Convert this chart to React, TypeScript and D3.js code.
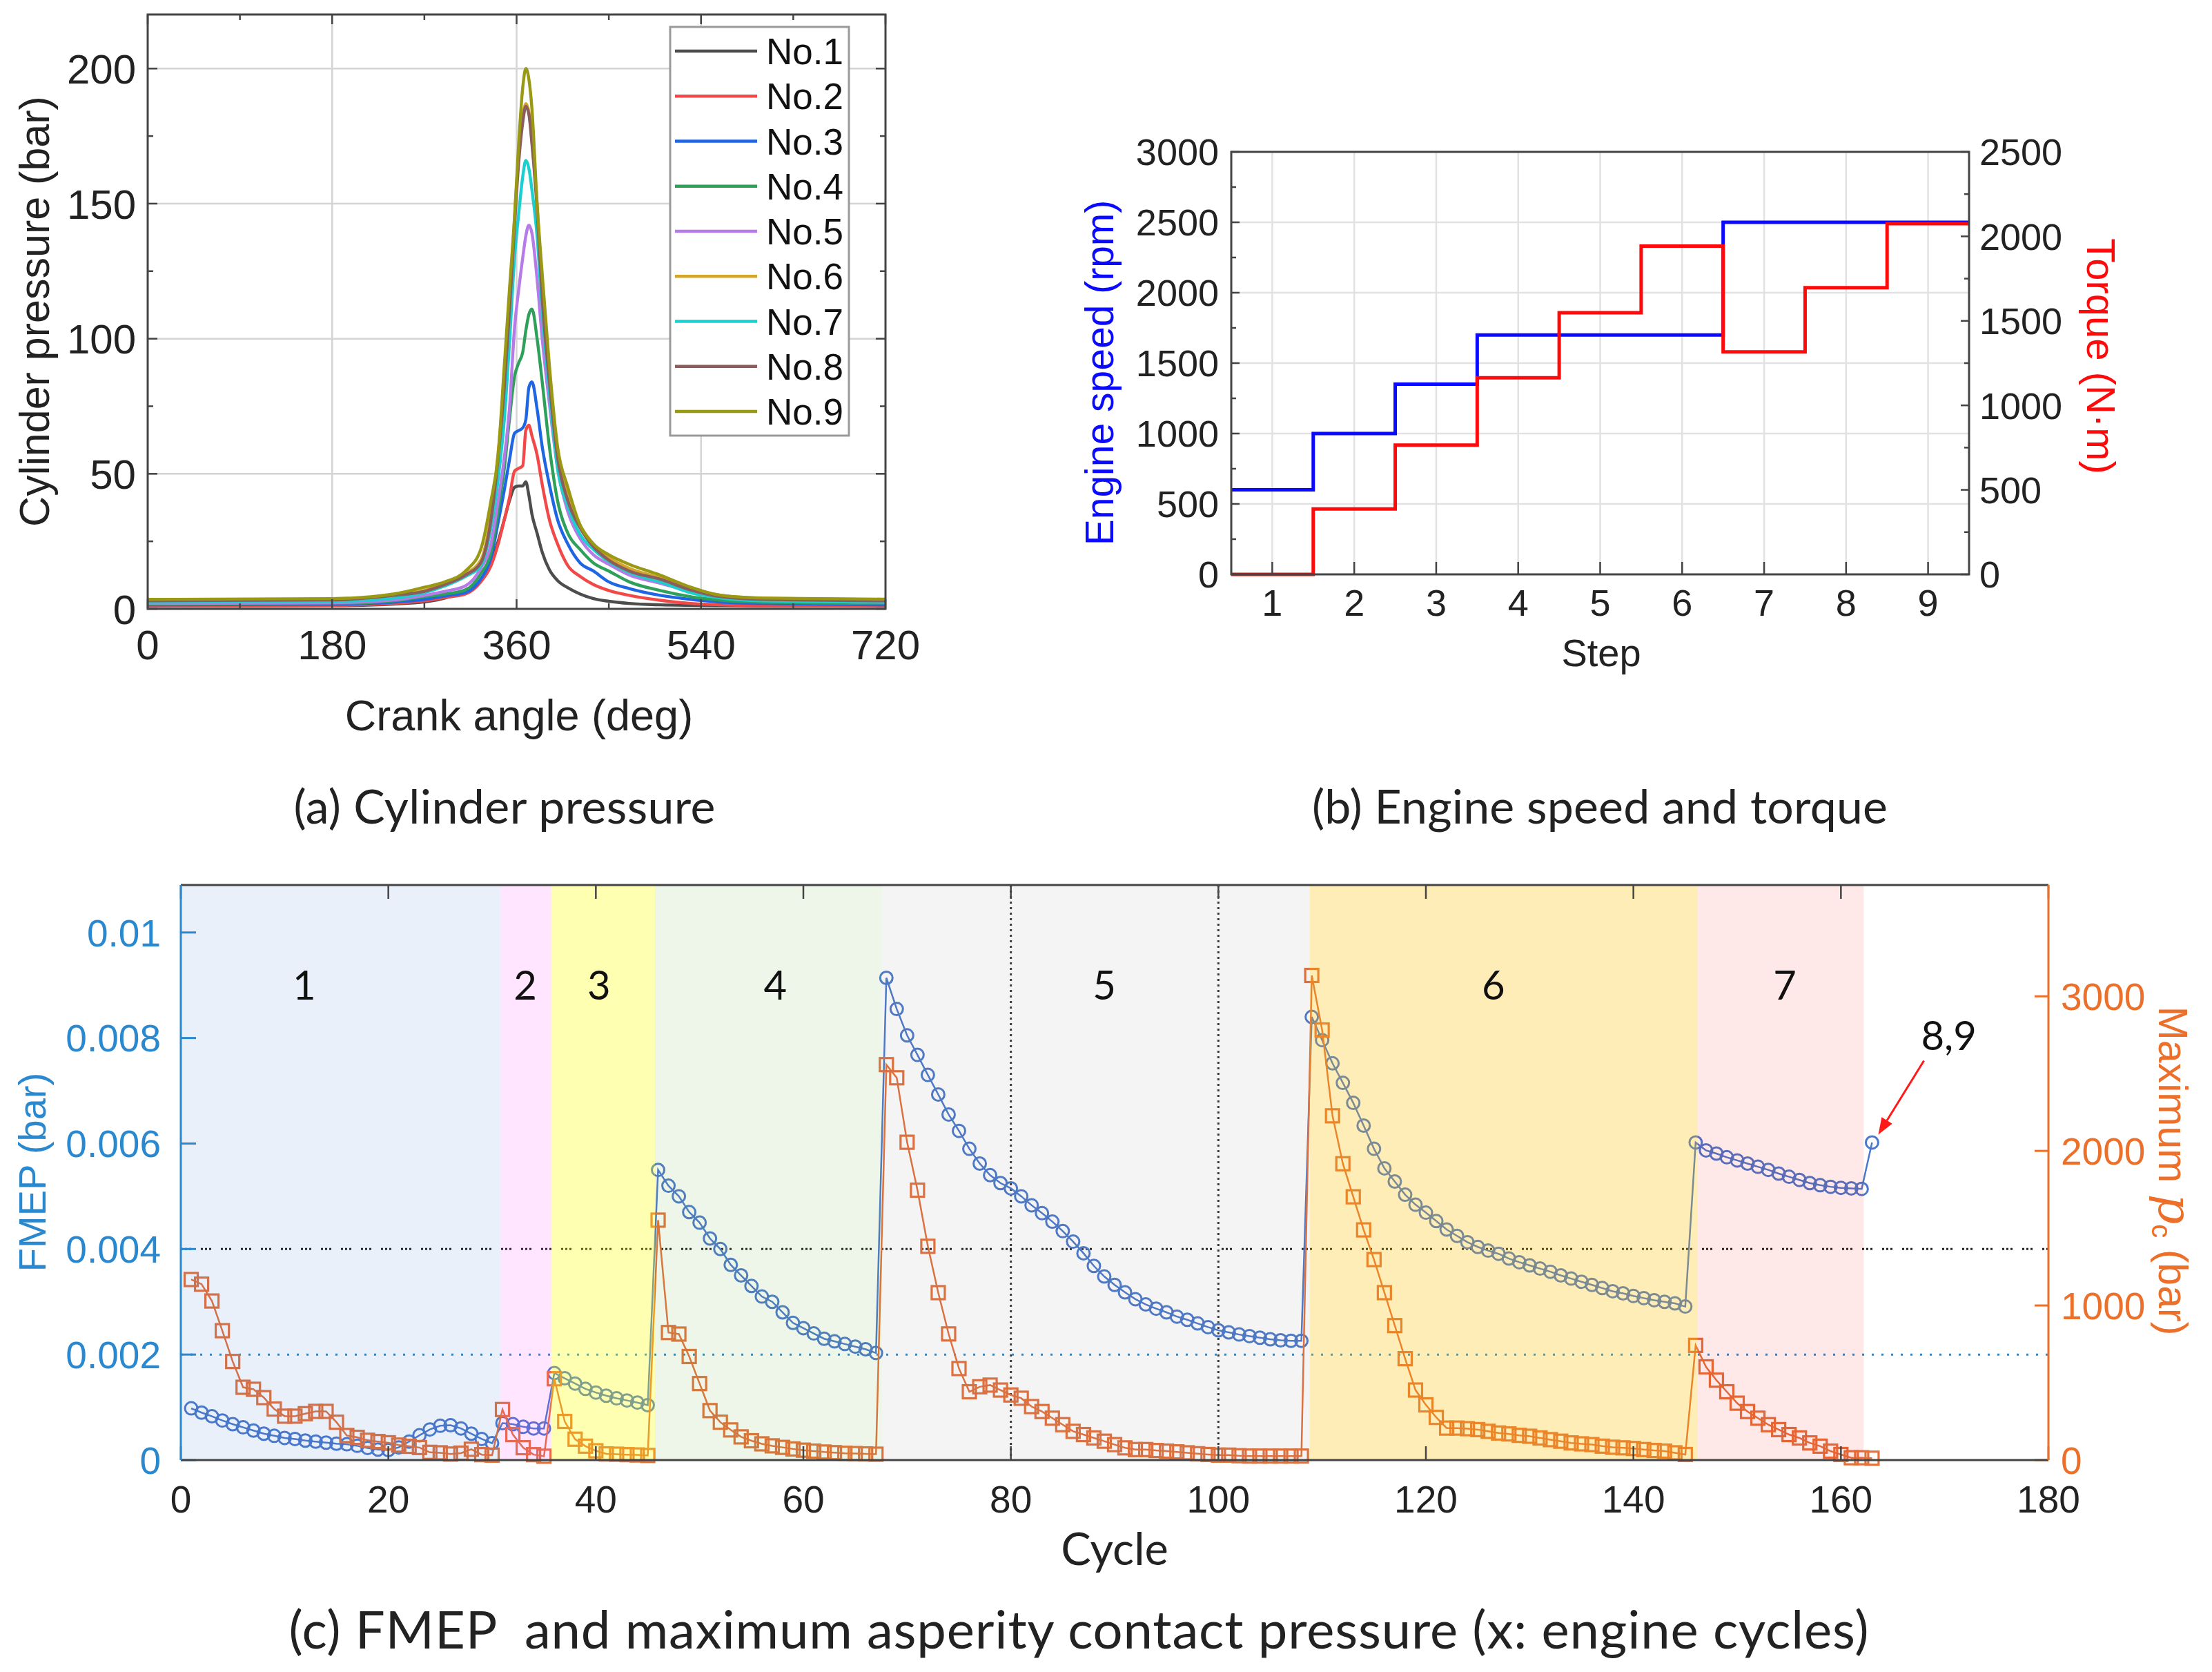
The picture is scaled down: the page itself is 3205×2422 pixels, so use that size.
import React from 'react';
import * as d3 from 'd3';

const W = 3205;
const H = 2422;
const ARIAL = 'Liberation Sans, Arial, sans-serif';
const CALIBRI = 'Lato, "Open Sans", sans-serif';

// ---------- (a) cylinder pressure ----------
const crankAngles = [0, 180, 240, 270, 290, 310, 325, 335, 342, 348, 353, 358, 362, 366, 369, 372, 375, 380, 385, 392, 400, 410, 422, 435, 450, 470, 500, 530, 560, 600, 720];
const pressureNo1 = [1.0, 1.2, 1.8, 2.6, 4, 7, 10.5, 17, 25, 33, 40, 45, 45.5, 45.5, 47, 42, 35, 28, 21, 14.5, 10.5, 7.8, 5.5, 3.8, 2.8, 2, 1.5, 1.3, 1.2, 1.1, 1.0];
const pressureNo2 = [1.0, 1.3, 2, 3, 4.2, 5.5, 10, 16, 24, 33, 41, 51, 52, 53, 66, 68, 64, 57, 46, 33, 24, 16, 12, 9, 6.8, 5, 3.2, 2, 1.5, 1.2, 1.0];
const pressureNo3 = [1.5, 1.7, 2.5, 3.5, 4.8, 6, 11, 19, 32, 44, 55, 65, 66, 67, 70, 82, 84, 74, 60, 46, 33, 24, 17, 14, 10, 7.5, 5, 3.5, 2.5, 2, 1.5];
const pressureNo4 = [1.8, 2, 3, 4.5, 5.5, 7, 13, 21, 36, 52, 70, 86, 91, 95, 103, 109, 111, 100, 84, 60, 40, 28, 22, 17, 14, 10, 6.8, 4.5, 3.2, 2.5, 2];
const pressureNo5 = [2, 2.3, 3.3, 5, 6.5, 8.5, 15, 24, 40, 56, 74, 104, 118, 130, 138, 142, 139, 122, 100, 76, 52, 36, 26, 20, 16.5, 12.5, 9.5, 6.5, 4.5, 3.2, 2.5];
const pressureNo6 = [3.3, 3.6, 5, 6.8, 9.5, 13, 18, 35, 58, 85, 112, 145, 168, 182, 187, 184, 173, 150, 117, 86, 58, 42, 31, 24, 19, 15, 11.5, 7.5, 5, 4, 3.5];
const pressureNo7 = [2.5, 2.8, 4, 6, 8.5, 12, 16, 30, 48, 70, 98, 130, 146, 160, 166, 163, 155, 138, 110, 80, 52, 38, 27.5, 22, 17.5, 13.5, 10, 6, 4, 3, 2.5];
const pressureNo8 = [3, 3.3, 5, 6.5, 9, 12.5, 17, 33, 56, 82, 110, 142, 165, 180, 186, 183, 172, 148, 115, 84, 56, 40, 30, 23, 18, 14, 11, 7, 4.5, 3.5, 3];
const pressureNo9 = [3.5, 3.8, 5.5, 8, 10, 14, 22, 40, 57, 90, 118, 145, 172, 193, 200, 196, 185, 150, 124, 90, 60, 45, 31, 24, 20, 16.5, 12.5, 8, 5, 4, 3.6];
const caseNames = ['No.1', 'No.2', 'No.3', 'No.4', 'No.5', 'No.6', 'No.7', 'No.8', 'No.9'];
const caseColors = ['#4d4d4d', '#f24848', '#1f66e5', '#2ea05a', '#b67be8', '#d4a52a', '#1ccfcf', '#8c5d5d', '#999914'];
const pressureCurves = [pressureNo1, pressureNo2, pressureNo3, pressureNo4, pressureNo5, pressureNo6, pressureNo7, pressureNo8, pressureNo9];
const angleTicks = [0, 180, 360, 540, 720];
const angleMinor = [90, 270, 450, 630];
const pressureTicks = [0, 50, 100, 150, 200];
const pressureMinor = [25, 75, 125, 175];

// ---------- (b) engine speed and torque ----------
const steps = [1, 2, 3, 4, 5, 6, 7, 8, 9];
const engineSpeed = [600, 1000, 1350, 1700, 1700, 1700, 2500, 2500, 2500];
const torque = [0, 387, 765, 1163, 1548, 1942, 1316, 1696, 2075];
const speedTicks = [0, 500, 1000, 1500, 2000, 2500, 3000];
const torqueTicks = [0, 500, 1000, 1500, 2000, 2500];

// ---------- (c) FMEP and maximum asperity contact pressure (cycles 1..163) ----------
const fmep = [
  // stage 1
  0.00098, 0.0009, 0.00083, 0.00075, 0.00068, 0.00062, 0.00056, 0.0005, 0.00046, 0.00042,
  0.0004, 0.00037, 0.00035, 0.00033, 0.00031, 0.0003, 0.00027, 0.00023, 0.0002, 0.00019,
  0.00024, 0.00035, 0.00047, 0.00058, 0.00065, 0.00066, 0.0006, 0.0005, 0.0004, 0.00032,
  // stage 2
  0.0007, 0.00068, 0.00063, 0.0006, 0.0006,
  // stage 3
  0.00165, 0.00155, 0.00145, 0.00135, 0.00128, 0.00122, 0.00117, 0.00113, 0.00109, 0.00104,
  // stage 4
  0.0055, 0.0052, 0.005, 0.0047, 0.0045, 0.0042, 0.004, 0.0037, 0.0035, 0.0033, 0.0031,
  0.003, 0.0028, 0.0026, 0.0025, 0.0024, 0.0023, 0.00225, 0.0022, 0.00215, 0.0021, 0.00203,
  // stage 5
  0.00914, 0.00855, 0.00805, 0.00768, 0.0073, 0.00693, 0.00655, 0.00624, 0.0059, 0.00562,
  0.0054, 0.00525, 0.00515, 0.005, 0.00483, 0.00468, 0.00452, 0.00434, 0.00414, 0.00392,
  0.00368, 0.00348, 0.00332, 0.00318, 0.00305, 0.00295, 0.00287, 0.0028, 0.00272, 0.00266,
  0.00259, 0.00252, 0.00246, 0.00242, 0.00238, 0.00235, 0.00232, 0.00229, 0.00227, 0.00226, 0.00226,
  // stage 6
  0.0084, 0.00796, 0.00752, 0.00715, 0.00677, 0.00634, 0.0059, 0.00553, 0.00528, 0.00503,
  0.00484, 0.00469, 0.00453, 0.00437, 0.00425, 0.00413, 0.00404, 0.00397, 0.00391, 0.00382,
  0.00375, 0.00369, 0.00363, 0.00357, 0.0035, 0.00344, 0.00338, 0.00332, 0.00326, 0.0032,
  0.00316, 0.00311, 0.00307, 0.00303, 0.003, 0.00297, 0.00291,
  // stage 7 and 8,9
  0.00602, 0.00587, 0.00581, 0.00574, 0.00568, 0.00562, 0.00556, 0.0055, 0.00543, 0.00537,
  0.00531, 0.00525, 0.00521, 0.00518, 0.00516, 0.00515, 0.00514,
  0.00602,
];
const maxPc = [
  // stage 1
  1168, 1138, 1029, 837, 638, 471, 458, 404, 330, 284, 284, 300, 315, 315, 245,
  159, 147, 128, 120, 112, 97, 89, 81, 50, 47, 39, 45, 70, 35, 32,
  // stage 2
  327, 165, 80, 35, 25,
  // stage 3
  526, 250, 135, 90, 60, 40, 38, 35, 33, 30,
  // stage 4
  1552, 825, 815, 670, 495, 320, 245, 195, 150, 125, 105, 92, 82, 72, 64, 58, 52, 48, 44, 42, 40, 38,
  // stage 5
  2558, 2473, 2056, 1746, 1383, 1083, 816, 592, 442, 474, 485, 453, 421, 400, 346, 314, 271, 229,
  186, 165, 143, 122, 100, 79, 68, 68, 62, 58, 53, 47, 41, 36, 32, 32, 28, 26, 26, 26, 26, 26, 26,
  // stage 6
  3135, 2782, 2227, 1917, 1703, 1489, 1297, 1083, 870, 656, 453, 357, 276, 207, 207, 203, 197, 186,
  175, 169, 160, 154, 143, 132, 122, 111, 105, 100, 90, 83, 79, 75, 68, 62, 58, 47, 36,
  // stage 7 and 8,9
  742, 603, 517, 442, 368, 314, 271, 229, 197, 165, 143, 111, 90, 58, 36, 15, 15, 12,
];
const stageEdges = [0, 30.8, 35.7, 45.7, 67.6, 108.8, 146.2, 162.2];
const stageLabels = ['1', '2', '3', '4', '5', '6', '7'];
const stageLabelCycles = [11.9, 33.2, 40.3, 57.3, 89, 126.5, 154.6];
const stageFills = ['#4472c4', '#ff33ff', '#ffff00', '#70ad47', '#808080', '#ffc000', '#ff0000'];
const stageOpacity = [0.11, 0.13, 0.3, 0.12, 0.09, 0.28, 0.09];
const cycleTicks = [0, 20, 40, 60, 80, 100, 120, 140, 160, 180];
const cycleGrid = [80, 100];
const fmepTicks = [0, 0.002, 0.004, 0.006, 0.008, 0.01];
const pcTicks = [0, 1000, 2000, 3000];

const FRAME = '#444';

function PanelA() {
  const L = 214, R = 1283, T = 21, B = 882;
  const x = d3.scaleLinear().domain([0, 720]).range([L, R]);
  const y = d3.scaleLinear().domain([0, 220]).range([B, T]);
  const line = d3.line<number>()
    .x((_, i) => x(crankAngles[i]))
    .y((d) => y(d))
    .curve(d3.curveMonotoneX);
  const legY = d3.scalePoint<string>().domain(caseNames).range([74, 596]);
  return (
    <g>
      {angleTicks.slice(1, -1).map((a) => (
        <line key={'gx' + a} x1={x(a)} x2={x(a)} y1={T} y2={B} stroke="#d4d4d4" strokeWidth={2.5} />
      ))}
      {pressureTicks.slice(1).map((p) => (
        <line key={'gy' + p} x1={L} x2={R} y1={y(p)} y2={y(p)} stroke="#d4d4d4" strokeWidth={2.5} />
      ))}
      {pressureCurves.map((c, i) => (
        <path key={caseNames[i]} d={line(c) || ''} fill="none" stroke={caseColors[i]} strokeWidth={4.4} strokeLinejoin="round" />
      ))}
      {angleTicks.concat(angleMinor).map((a) => {
        const len = angleTicks.includes(a) ? 14 : 8;
        return (
          <g key={'tx' + a}>
            <line x1={x(a)} x2={x(a)} y1={B} y2={B - len} stroke={FRAME} strokeWidth={2.5} />
            <line x1={x(a)} x2={x(a)} y1={T} y2={T + len} stroke={FRAME} strokeWidth={2.5} />
          </g>
        );
      })}
      {pressureTicks.concat(pressureMinor).map((p) => {
        const len = pressureTicks.includes(p) ? 14 : 8;
        return (
          <g key={'ty' + p}>
            <line x1={L} x2={L + len} y1={y(p)} y2={y(p)} stroke={FRAME} strokeWidth={2.5} />
            <line x1={R} x2={R - len} y1={y(p)} y2={y(p)} stroke={FRAME} strokeWidth={2.5} />
          </g>
        );
      })}
      <rect x={L} y={T} width={R - L} height={B - T} fill="none" stroke={FRAME} strokeWidth={3} />
      {/* legend */}
      <rect x={971} y={39} width={259} height={592} fill="#fff" stroke="#9a9a9a" strokeWidth={3} />
      {caseNames.map((n, i) => (
        <g key={'lg' + n}>
          <line x1={978} x2={1097} y1={legY(n)} y2={legY(n)} stroke={caseColors[i]} strokeWidth={4.5} />
          <text x={1110} y={legY(n)} dy="0.36em" fontFamily={ARIAL} fontSize={53} fill="#111">{n}</text>
        </g>
      ))}
      {angleTicks.map((a) => (
        <text key={'lx' + a} x={x(a)} y={933} dy="0.36em" textAnchor="middle" fontFamily={ARIAL} fontSize={60} fill="#222">{a}</text>
      ))}
      {pressureTicks.map((p) => (
        <text key={'ly' + p} x={197} y={y(p)} dy="0.36em" textAnchor="end" fontFamily={ARIAL} fontSize={60} fill="#222">{p}</text>
      ))}
      <text transform="translate(49,451) rotate(-90)" dy="0.36em" textAnchor="middle" fontFamily={ARIAL} fontSize={61} fill="#222">Cylinder pressure (bar)</text>
      <text x={752} y={1035} dy="0.36em" textAnchor="middle" fontFamily={ARIAL} fontSize={63} fill="#222">Crank angle (deg)</text>
    </g>
  );
}

function PanelB() {
  const L = 1784, R = 2853, T = 220, B = 832;
  const x = d3.scaleLinear().domain([0.5, 9.5]).range([L, R]);
  const yS = d3.scaleLinear().domain([0, 3000]).range([B, T]);
  const yT = d3.scaleLinear().domain([0, 2500]).range([B, T]);
  const stepPts = (vals: number[]) => steps.map((s, i) => [s - 0.5, vals[i]] as [number, number]).concat([[9.5, vals[vals.length - 1]]]);
  const speedLine = d3.line<[number, number]>().x((d) => x(d[0])).y((d) => yS(d[1])).curve(d3.curveStepAfter);
  const torqueLine = d3.line<[number, number]>().x((d) => x(d[0])).y((d) => yT(d[1])).curve(d3.curveStepAfter);
  return (
    <g>
      {steps.map((s) => (
        <line key={'gx' + s} x1={x(s)} x2={x(s)} y1={T} y2={B} stroke="#e2e2e2" strokeWidth={2.5} />
      ))}
      {speedTicks.slice(1, -1).map((v) => (
        <line key={'gy' + v} x1={L} x2={R} y1={yS(v)} y2={yS(v)} stroke="#e2e2e2" strokeWidth={2.5} />
      ))}
      <path d={speedLine(stepPts(engineSpeed)) || ''} fill="none" stroke="#0a0aff" strokeWidth={5} />
      <path d={torqueLine(stepPts(torque)) || ''} fill="none" stroke="#ff0a0a" strokeWidth={5} />
      {steps.map((s) => (
        <line key={'tx' + s} x1={x(s)} x2={x(s)} y1={B} y2={B - 18} stroke={FRAME} strokeWidth={2.5} />
      ))}
      {d3.range(0, 3001, 250).map((v) => (
        <line key={'tl' + v} x1={L} x2={L + (v % 500 === 0 ? 12 : 7)} y1={yS(v)} y2={yS(v)} stroke={FRAME} strokeWidth={2.5} />
      ))}
      {d3.range(0, 2501, 250).map((v) => (
        <line key={'tr' + v} x1={R} x2={R - (v % 500 === 0 ? 12 : 7)} y1={yT(v)} y2={yT(v)} stroke={FRAME} strokeWidth={2.5} />
      ))}
      <rect x={L} y={T} width={R - L} height={B - T} fill="none" stroke={FRAME} strokeWidth={3} />
      {steps.map((s) => (
        <text key={'lx' + s} x={x(s)} y={873} dy="0.36em" textAnchor="middle" fontFamily={ARIAL} fontSize={54} fill="#222">{s}</text>
      ))}
      {speedTicks.map((v) => (
        <text key={'ls' + v} x={1766} y={yS(v)} dy="0.36em" textAnchor="end" fontFamily={ARIAL} fontSize={54} fill="#222">{v}</text>
      ))}
      {torqueTicks.map((v) => (
        <text key={'lt' + v} x={2868} y={yT(v)} dy="0.36em" textAnchor="start" fontFamily={ARIAL} fontSize={54} fill="#222">{v}</text>
      ))}
      <text x={2320} y={945} dy="0.36em" textAnchor="middle" fontFamily={ARIAL} fontSize={56} fill="#222">Step</text>
      <text transform="translate(1592,540) rotate(-90)" dy="0.36em" textAnchor="middle" fontFamily={ARIAL} fontSize={57} fill="#0a0aff">Engine speed (rpm)</text>
      <text transform="translate(3045,516) rotate(90)" dy="0.36em" textAnchor="middle" fontFamily={ARIAL} fontSize={58} fill="#ff0a0a">Torque (N·m)</text>
    </g>
  );
}

function PanelC() {
  const L = 262, R = 2968, T = 1282, B = 2115;
  const x = d3.scaleLinear().domain([0, 180]).range([L, R]);
  const yF = d3.scaleLinear().domain([0, 0.0109]).range([B, T]);
  const yP = d3.scaleLinear().domain([0, 3720]).range([B, T]);
  const fLine = d3.line<number>().x((_, i) => x(i + 1)).y((d) => yF(d));
  const pLine = d3.line<number>().x((_, i) => x(i + 1)).y((d) => yP(d));
  const BLUE = '#4a78cc';
  const ORANGE = '#e4703a';
  const LBLUE = '#2a88cf';
  const LORANGE = '#ec6f2a';
  // arrow to the 8,9 point
  const a0 = [x(168.0), yF(0.00757)];
  const a1 = [x(163.6), yF(0.00617)];
  const ang = Math.atan2(a1[1] - a0[1], a1[0] - a0[0]);
  const hl = 24, hw = 9;
  const bx = a1[0] - hl * Math.cos(ang), by = a1[1] - hl * Math.sin(ang);
  const head = [
    [a1[0], a1[1]],
    [bx + hw * Math.sin(ang), by - hw * Math.cos(ang)],
    [bx - hw * Math.sin(ang), by + hw * Math.cos(ang)],
  ].map((p) => p.join(',')).join(' ');
  return (
    <g>
      {cycleGrid.map((c) => (
        <line key={'gx' + c} x1={x(c)} x2={x(c)} y1={T} y2={B} stroke="#333" strokeWidth={3} strokeDasharray="3 5" />
      ))}
      <line x1={L} x2={R} y1={yF(0.004)} y2={yF(0.004)} stroke="#222" strokeWidth={3} strokeDasharray="3 3 3 3 3 14" />
      <line x1={L} x2={R} y1={yF(0.002)} y2={yF(0.002)} stroke="#2a88cf" strokeWidth={3} strokeDasharray="3 11" />
      <path d={fLine(fmep) || ''} fill="none" stroke={BLUE} strokeWidth={2.5} />
      {fmep.map((v, i) => (
        <circle key={'f' + i} cx={x(i + 1)} cy={yF(v)} r={9} fill="none" stroke={BLUE} strokeWidth={3} />
      ))}
      <path d={pLine(maxPc) || ''} fill="none" stroke={ORANGE} strokeWidth={2.5} />
      {maxPc.map((v, i) => (
        <rect key={'p' + i} x={x(i + 1) - 9.5} y={yP(v) - 9.5} width={19} height={19} fill="none" stroke={ORANGE} strokeWidth={3.2} />
      ))}
      {stageLabels.map((s, i) => (
        <rect key={'st' + s} x={x(stageEdges[i])} y={T} width={x(stageEdges[i + 1]) - x(stageEdges[i])} height={B - T}
          fill={stageFills[i]} fillOpacity={stageOpacity[i]} />
      ))}
      {stageLabels.map((s, i) => (
        <text key={'sl' + s} x={x(stageLabelCycles[i])} y={yF(0.009)} dy="0.36em" textAnchor="middle" fontFamily={CALIBRI} fontSize={58} fill="#111">{s}</text>
      ))}
      <text x={x(170.4)} y={yF(0.00804)} dy="0.36em" textAnchor="middle" fontFamily={CALIBRI} fontSize={58} fill="#111">8,9</text>
      <line x1={a0[0]} y1={a0[1]} x2={bx} y2={by} stroke="#ff1a1a" strokeWidth={3} />
      <polygon points={head} fill="#ff1a1a" />
      {/* ticks */}
      {cycleTicks.map((c) => (
        <g key={'tx' + c}>
          <line x1={x(c)} x2={x(c)} y1={B} y2={B - 20} stroke={FRAME} strokeWidth={2.5} />
          <line x1={x(c)} x2={x(c)} y1={T} y2={T + 20} stroke={FRAME} strokeWidth={2.5} />
        </g>
      ))}
      {fmepTicks.map((v) => (
        <line key={'tf' + v} x1={L} x2={L + 22} y1={yF(v)} y2={yF(v)} stroke={LBLUE} strokeWidth={3} />
      ))}
      {pcTicks.map((v) => (
        <line key={'tp' + v} x1={R} x2={R - 20} y1={yP(v)} y2={yP(v)} stroke={LORANGE} strokeWidth={3} />
      ))}
      <line x1={L} x2={R} y1={T} y2={T} stroke={FRAME} strokeWidth={3} />
      <line x1={L} x2={R} y1={B} y2={B} stroke={FRAME} strokeWidth={3} />
      <line x1={L} x2={L} y1={T} y2={B} stroke={LBLUE} strokeWidth={3} />
      <line x1={R} x2={R} y1={T} y2={B} stroke={LORANGE} strokeWidth={3} />
      {cycleTicks.map((c) => (
        <text key={'lx' + c} x={x(c)} y={2171} dy="0.36em" textAnchor="middle" fontFamily={ARIAL} fontSize={55} fill="#222">{c}</text>
      ))}
      {fmepTicks.map((v) => (
        <text key={'lf' + v} x={233} y={yF(v)} dy="0.36em" textAnchor="end" fontFamily={ARIAL} fontSize={55} fill={LBLUE}>
          {v === 0 ? '0' : String(+v.toFixed(3))}
        </text>
      ))}
      {pcTicks.map((v) => (
        <text key={'lp' + v} x={2986} y={yP(v)} dy="0.36em" textAnchor="start" fontFamily={ARIAL} fontSize={55} fill={LORANGE}>{v}</text>
      ))}
      <text x={1615} y={2244} dy="0.36em" textAnchor="middle" fontFamily={CALIBRI} fontSize={65} fill="#222">Cycle</text>
      <text transform="translate(46,1698) rotate(-90)" dy="0.36em" textAnchor="middle" fontFamily={ARIAL} fontSize={56} fill={LBLUE}>FMEP (bar)</text>
      <text transform="translate(3149,1696) rotate(90)" dy="0.36em" textAnchor="middle" fontFamily={ARIAL} fontSize={59} fill={LORANGE}>
        Maximum <tspan fontFamily="DejaVu Serif, serif" fontStyle="italic" fontSize={68}>p</tspan>
        <tspan fontSize={40} dy="10">c</tspan>
        <tspan dy="-10"> (bar)</tspan>
      </text>
    </g>
  );
}

export default function App() {
  return (
    <div style={{ width: W, height: H, background: '#fff' }}>
      <style>{'body{margin:0;background:#fff}'}</style>
      <svg width={W} height={H} viewBox={`0 0 ${W} ${H}`} style={{ display: 'block' }}>
        <rect width={W} height={H} fill="#fff" />
        <PanelA />
        <PanelB />
        <PanelC />
        <text x={731} y={1169} dy="0.36em" textAnchor="middle" fontFamily={CALIBRI} fontSize={68} fill="#222"
          textLength={611} lengthAdjust="spacing">(a) Cylinder pressure</text>
        <text x={2318} y={1169} dy="0.36em" textAnchor="middle" fontFamily={CALIBRI} fontSize={68} fill="#222"
          textLength={834} lengthAdjust="spacing">(b) Engine speed and torque</text>
        <text x={1563} y={2361} dy="0.36em" textAnchor="middle" fontFamily={CALIBRI} fontSize={76} fill="#222"
          textLength={2289} lengthAdjust="spacing" style={{ whiteSpace: 'pre' }}>
          {'(c) FMEP  and maximum asperity contact pressure (x: engine cycles)'}
        </text>
      </svg>
    </div>
  );
}
